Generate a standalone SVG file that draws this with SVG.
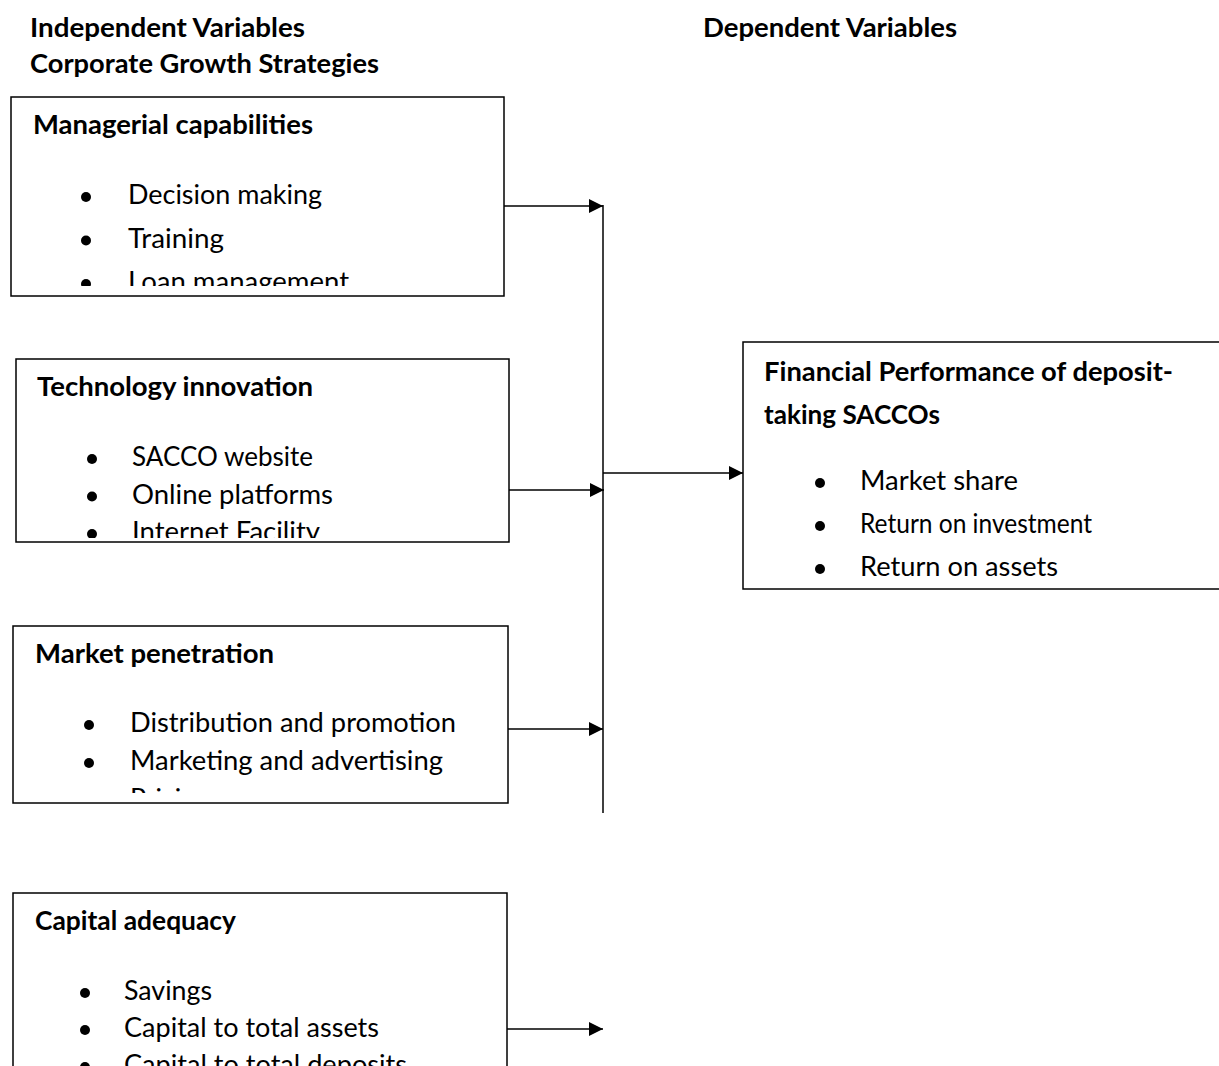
<svg xmlns="http://www.w3.org/2000/svg" width="1219" height="1066" viewBox="0 0 1219 1066">
<style>
.box{fill:#fff;stroke:#000;stroke-width:1.5}
.t{font-family:Lato,"Open Sans","Liberation Sans",sans-serif;font-size:27px;fill:#000}
.b{font-weight:bold}
.conn{stroke:#000;stroke-width:1.5;fill:none}
.dot{fill:#000}
</style>
<defs>
<marker id="ah" markerUnits="userSpaceOnUse" markerWidth="15" markerHeight="15" refX="14" refY="7" orient="auto">
<path d="M0,0 L14,7 L0,14 z" fill="#000"/>
</marker>
<clipPath id="c1"><rect x="0" y="90" width="520" height="196"/></clipPath>
<clipPath id="c2"><rect x="0" y="350" width="520" height="188"/></clipPath>
<clipPath id="c3"><rect x="0" y="620" width="520" height="173"/></clipPath>
</defs>
<rect width="1219" height="1066" fill="#fff"/>
<g id="headers">
<text class="t b" x="30" y="37" textLength="275" lengthAdjust="spacingAndGlyphs">Independent Variables</text>
<text class="t b" x="30" y="73" textLength="349" lengthAdjust="spacingAndGlyphs">Corporate Growth Strategies</text>
<text class="t b" x="703" y="37" textLength="254" lengthAdjust="spacingAndGlyphs">Dependent Variables</text>
</g>
<g id="managerial">
<rect class="box" x="11" y="97" width="493" height="199"/>
<g clip-path="url(#c1)">
<text class="t b" x="33" y="134" textLength="280" lengthAdjust="spacingAndGlyphs">Managerial capabilities</text>
<circle class="dot" cx="86" cy="197" r="5"/>
<text class="t" x="128" y="204" textLength="194" lengthAdjust="spacingAndGlyphs">Decision making</text>
<circle class="dot" cx="86" cy="240.5" r="5"/>
<text class="t" x="128" y="247.5" textLength="96" lengthAdjust="spacingAndGlyphs">Training</text>
<circle class="dot" cx="86" cy="284" r="5"/>
<text class="t" x="128" y="291" textLength="221" lengthAdjust="spacingAndGlyphs">Loan management</text>
</g>
</g>
<g id="technology">
<rect class="box" x="16" y="359" width="493" height="183"/>
<g clip-path="url(#c2)">
<text class="t b" x="37" y="396" textLength="276" lengthAdjust="spacingAndGlyphs">Technology innovation</text>
<circle class="dot" cx="92" cy="459" r="5"/>
<text class="t" x="132" y="466" textLength="181" lengthAdjust="spacingAndGlyphs">SACCO website</text>
<circle class="dot" cx="92" cy="496.5" r="5"/>
<text class="t" x="132" y="503.5" textLength="201" lengthAdjust="spacingAndGlyphs">Online platforms</text>
<circle class="dot" cx="92" cy="534" r="5"/>
<text class="t" x="132" y="541" textLength="188" lengthAdjust="spacingAndGlyphs">Internet Facility</text>
</g>
</g>
<g id="market">
<rect class="box" x="13" y="626" width="495" height="177"/>
<g clip-path="url(#c3)">
<text class="t b" x="35" y="663" textLength="239" lengthAdjust="spacingAndGlyphs">Market penetration</text>
<circle class="dot" cx="89" cy="725" r="5"/>
<text class="t" x="130" y="732" textLength="326" lengthAdjust="spacingAndGlyphs">Distribution and promotion</text>
<circle class="dot" cx="89" cy="763" r="5"/>
<text class="t" x="130" y="770" textLength="313" lengthAdjust="spacingAndGlyphs">Marketing and advertising</text>
<circle class="dot" cx="89" cy="801" r="5"/>
<text class="t" x="130" y="808" textLength="80" lengthAdjust="spacingAndGlyphs">Pricing</text>
</g>
</g>
<g id="capital">
<rect class="box" x="13" y="893" width="494" height="200"/>
<text class="t b" x="35" y="930" textLength="201" lengthAdjust="spacingAndGlyphs">Capital adequacy</text>
<circle class="dot" cx="85" cy="993" r="5"/>
<text class="t" x="124" y="1000" textLength="88" lengthAdjust="spacingAndGlyphs">Savings</text>
<circle class="dot" cx="85" cy="1030" r="5"/>
<text class="t" x="124" y="1037" textLength="255" lengthAdjust="spacingAndGlyphs">Capital to total assets</text>
<circle class="dot" cx="85" cy="1067" r="5"/>
<text class="t" x="124" y="1074" textLength="283" lengthAdjust="spacingAndGlyphs">Capital to total deposits</text>
</g>
<g id="financial">
<rect class="box" x="743" y="342" width="490" height="247"/>
<text class="t b" x="764" y="381" textLength="409" lengthAdjust="spacingAndGlyphs">Financial Performance of deposit-</text>
<text class="t b" x="764" y="424" textLength="176" lengthAdjust="spacingAndGlyphs">taking SACCOs</text>
<circle class="dot" cx="820" cy="483" r="5"/>
<text class="t" x="860" y="490" textLength="158" lengthAdjust="spacingAndGlyphs">Market share</text>
<circle class="dot" cx="820" cy="526" r="5"/>
<text class="t" x="860" y="533" textLength="232" lengthAdjust="spacingAndGlyphs">Return on investment</text>
<circle class="dot" cx="820" cy="569" r="5"/>
<text class="t" x="860" y="576" textLength="198" lengthAdjust="spacingAndGlyphs">Return on assets</text>
</g>
<g id="connectors">
<line class="conn" x1="603" y1="205" x2="603" y2="813"/>
<line class="conn" x1="504" y1="206" x2="603" y2="206" marker-end="url(#ah)"/>
<line class="conn" x1="509" y1="490" x2="604" y2="490" marker-end="url(#ah)"/>
<line class="conn" x1="508" y1="729" x2="603" y2="729" marker-end="url(#ah)"/>
<line class="conn" x1="507" y1="1029" x2="603" y2="1029" marker-end="url(#ah)"/>
<line class="conn" x1="603" y1="473" x2="743" y2="473" marker-end="url(#ah)"/>
</g>
</svg>
